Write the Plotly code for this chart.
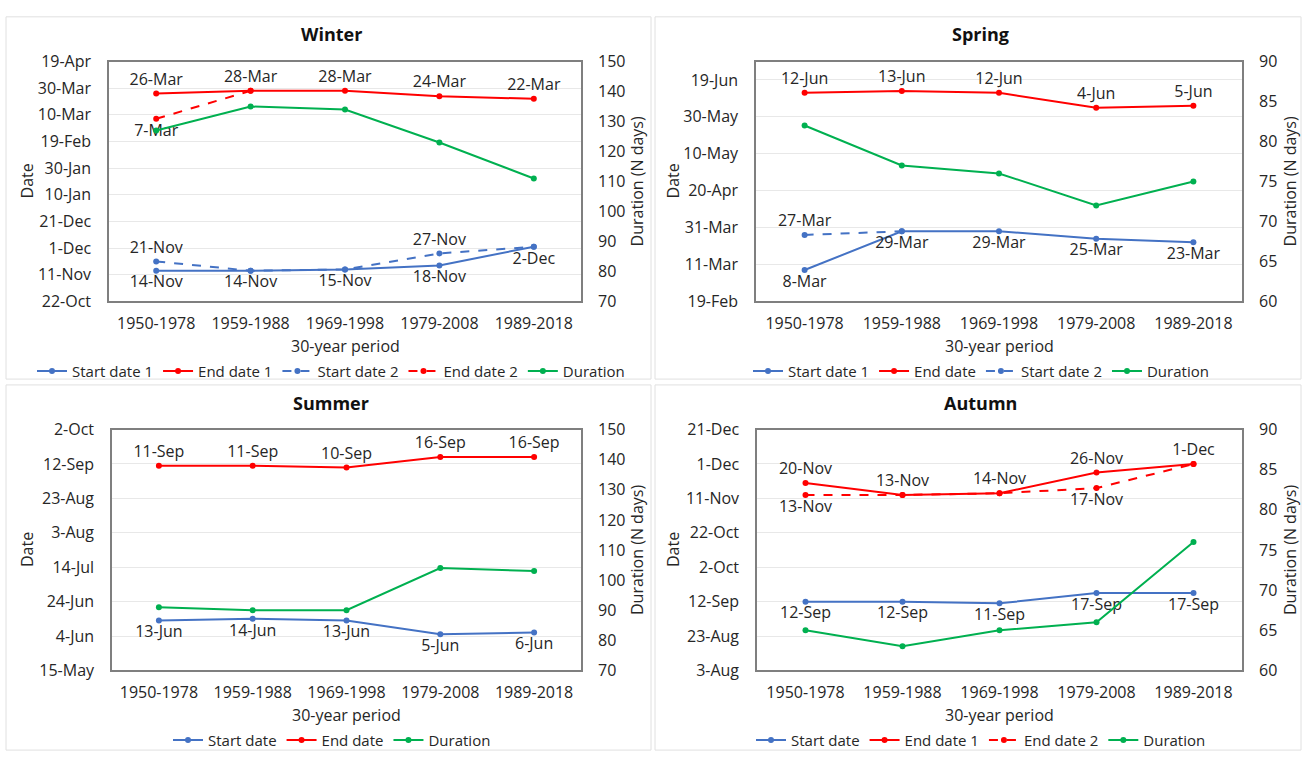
import plotly.graph_objects as go

# ---------------- DATA ----------------
periods = ["1950-1978", "1959-1988", "1969-1998", "1979-2008", "1989-2018"]

# Winter
winter_start1 = ["14-Nov", "14-Nov", "15-Nov", "18-Nov", "2-Dec"]
winter_end1 = ["26-Mar", "28-Mar", "28-Mar", "24-Mar", "22-Mar"]
winter_start2 = ["21-Nov", "14-Nov", "15-Nov", "27-Nov", "2-Dec"]
winter_end2 = ["7-Mar", "28-Mar", None, None, None]
winter_duration = [127, 135, 134, 123, 111]
winter_date_ticks = ["22-Oct", "11-Nov", "1-Dec", "21-Dec", "10-Jan", "30-Jan",
                     "19-Feb", "10-Mar", "30-Mar", "19-Apr"]
winter_dur_ticks = [70, 80, 90, 100, 110, 120, 130, 140, 150]

# Spring
spring_start1 = ["8-Mar", "29-Mar", "29-Mar", "25-Mar", "23-Mar"]
spring_end = ["12-Jun", "13-Jun", "12-Jun", "4-Jun", "5-Jun"]
spring_start2 = ["27-Mar", "29-Mar", None, None, None]
spring_duration = [82, 77, 76, 72, 75]
spring_date_ticks = ["19-Feb", "11-Mar", "31-Mar", "20-Apr", "10-May", "30-May", "19-Jun"]
spring_date_max = "29-Jun"
spring_dur_ticks = [60, 65, 70, 75, 80, 85, 90]

# Summer
summer_start = ["13-Jun", "14-Jun", "13-Jun", "5-Jun", "6-Jun"]
summer_end = ["11-Sep", "11-Sep", "10-Sep", "16-Sep", "16-Sep"]
summer_duration = [91, 90, 90, 104, 103]
summer_date_ticks = ["15-May", "4-Jun", "24-Jun", "14-Jul", "3-Aug", "23-Aug", "12-Sep", "2-Oct"]
summer_dur_ticks = [70, 80, 90, 100, 110, 120, 130, 140, 150]

# Autumn
autumn_start = ["12-Sep", "12-Sep", "11-Sep", "17-Sep", "17-Sep"]
autumn_end1 = ["20-Nov", "13-Nov", "14-Nov", "26-Nov", "1-Dec"]
autumn_end2 = ["13-Nov", "13-Nov", "14-Nov", "17-Nov", "1-Dec"]
autumn_duration = [65, 63, 65, 66, 76]
autumn_date_ticks = ["3-Aug", "23-Aug", "12-Sep", "2-Oct", "22-Oct", "11-Nov", "1-Dec", "21-Dec"]
autumn_dur_ticks = [60, 65, 70, 75, 80, 85, 90]

# ---------------- HELPERS ----------------
MONTHS = {"Jan": 1, "Feb": 2, "Mar": 3, "Apr": 4, "May": 5, "Jun": 6, "Jul": 7,
          "Aug": 8, "Sep": 9, "Oct": 10, "Nov": 11, "Dec": 12}


def to_iso(label, season):
    if label is None:
        return None
    d, m = label.split("-")
    mo = MONTHS[m]
    if season == "winter":
        yr = 1999 if mo >= 8 else 2000   # leap year spans the winter
    else:
        yr = 2001
    return f"{yr}-{mo:02d}-{int(d):02d}"


def conv(lst, season):
    return [to_iso(v, season) for v in lst]


BLUE = "#4472C4"
RED = "#FF0000"
GREEN = "#00B050"
TXT = "#262626"
FONT = "Open Sans"
FS = 16
LFS = 15

fig = go.Figure()


def add_line(name, xs, ys, color, dash, yaxis, xaxis, legend, labels=None, pos=None):
    kw = {}
    if labels is not None:
        kw["text"] = labels
        kw["textposition"] = pos
        kw["textfont"] = dict(family=FONT, size=FS, color=TXT)
        mode = "lines+markers+text"
    else:
        mode = "lines+markers"
    fig.add_trace(go.Scatter(
        x=xs, y=ys, name=name, mode=mode,
        line=dict(color=color, width=2, dash=dash),
        marker=dict(color=color, size=6),
        xaxis=xaxis, yaxis=yaxis, legend=legend, connectgaps=False,
        cliponaxis=False, **kw))


def lbl(lst, keep=None):
    return [("" if v is None or (keep is not None and i not in keep) else v) for i, v in enumerate(lst)]


# Winter (x, y, y2, legend)
add_line("Start date 1", periods, conv(winter_start1, "winter"), BLUE, "solid", "y", "x", "legend",
         winter_start1, "bottom center")
add_line("End date 1", periods, conv(winter_end1, "winter"), RED, "solid", "y", "x", "legend",
         winter_end1, "top center")
add_line("Start date 2", periods, conv(winter_start2, "winter"), BLUE, "dash", "y", "x", "legend",
         lbl(winter_start2, [0, 3]), "top center")
add_line("End date 2", periods, conv(winter_end2, "winter"), RED, "dash", "y", "x", "legend",
         lbl(winter_end2, [0]), "bottom center")
add_line("Duration", periods, winter_duration, GREEN, "solid", "y2", "x", "legend")

# Spring (x2, y3, y4, legend2)
add_line("Start date 1", periods, conv(spring_start1, "spring"), BLUE, "solid", "y3", "x2", "legend2",
         spring_start1, "bottom center")
add_line("End date", periods, conv(spring_end, "spring"), RED, "solid", "y3", "x2", "legend2",
         spring_end, "top center")
add_line("Start date 2", periods, conv(spring_start2, "spring"), BLUE, "dash", "y3", "x2", "legend2",
         lbl(spring_start2, [0]), "top center")
add_line("Duration", periods, spring_duration, GREEN, "solid", "y4", "x2", "legend2")

# Summer (x3, y5, y6, legend3)
add_line("Start date", periods, conv(summer_start, "summer"), BLUE, "solid", "y5", "x3", "legend3",
         summer_start, "bottom center")
add_line("End date", periods, conv(summer_end, "summer"), RED, "solid", "y5", "x3", "legend3",
         summer_end, "top center")
add_line("Duration", periods, summer_duration, GREEN, "solid", "y6", "x3", "legend3")

# Autumn (x4, y7, y8, legend4)
add_line("Start date", periods, conv(autumn_start, "autumn"), BLUE, "solid", "y7", "x4", "legend4",
         autumn_start, "bottom center")
add_line("End date 1", periods, conv(autumn_end1, "autumn"), RED, "solid", "y7", "x4", "legend4",
         autumn_end1, "top center")
add_line("End date 2", periods, conv(autumn_end2, "autumn"), RED, "dash", "y7", "x4", "legend4",
         lbl(autumn_end2, [0, 3]), "bottom center")
add_line("Duration", periods, autumn_duration, GREEN, "solid", "y8", "x4", "legend4")

# ---------------- LAYOUT ----------------
W, H = 1306, 764


def px_x(v):
    return v / W


def px_y(v):
    return 1 - v / H


panels = [
    (1, 1, 2, 109, 581, 52, 299, "winter", winter_date_ticks, winter_dur_ticks, None),
    (2, 3, 4, 756, 1242, 52, 299, "spring", spring_date_ticks, spring_dur_ticks, spring_date_max),
    (3, 5, 6, 112, 581, 431, 679, "summer", summer_date_ticks, summer_dur_ticks, None),
    (4, 7, 8, 757, 1242, 431, 679, "autumn", autumn_date_ticks, autumn_dur_ticks, None),
]

LINE = "#7F7F7F"
tickfont = dict(family=FONT, size=FS, color=TXT)
layout = dict(
    width=W, height=H, margin=dict(l=0, r=0, t=0, b=0),
    paper_bgcolor="white", plot_bgcolor="white",
    font=dict(family=FONT, size=FS, color=TXT),
)

for (xi, yl, yr, x0, x1, yt, yb, season, dticks, durticks, dmax) in panels:
    xs = "" if xi == 1 else str(xi)
    yls = "" if yl == 1 else str(yl)
    layout["xaxis" + xs] = dict(
        domain=[px_x(x0), px_x(x1)], anchor="y" + yls, type="category",
        range=[-0.5, 4.5], showline=True, mirror=True, linecolor=LINE, linewidth=1.5,
        showgrid=False, ticks="", tickfont=tickfont, ticklabelstandoff=7, zeroline=False,
    )
    tv = conv(dticks, season)
    top = to_iso(dmax, season) if dmax else tv[-1]
    layout["yaxis" + yls] = dict(
        domain=[px_y(yb), px_y(yt)], anchor="x" + xs, type="date",
        range=[tv[0], top], tickvals=tv, ticktext=dticks,
        showline=True, mirror=True, linecolor=LINE, linewidth=1.5,
        showgrid=True, gridcolor="#E8E8E8", gridwidth=1, ticks="",
        tickfont=tickfont, ticklabelstandoff=13, zeroline=False,
    )
    layout["yaxis" + str(yr)] = dict(
        overlaying="y" + yls, anchor="x" + xs, side="right",
        range=[durticks[0], durticks[-1]], tickvals=durticks,
        showline=False, showgrid=False, ticks="", zeroline=False,
        tickfont=tickfont, ticklabelstandoff=16,
    )

legend_pos = [("legend", 331, 371), ("legend2", 981, 371), ("legend3", 332, 751), ("legend4", 981, 751)]
for key, lx, ly in legend_pos:
    layout[key] = dict(
        orientation="h", x=px_x(lx), y=px_y(ly), xanchor="center", yanchor="middle",
        font=dict(family=FONT, size=LFS, color=TXT), bgcolor="rgba(0,0,0,0)",
        itemwidth=30, tracegroupgap=0, itemclick=False,
    )

annotations = []
titles = [("Winter", 331, 24), ("Spring", 980, 24), ("Summer", 331, 404), ("Autumn", 980, 404)]
for t, tx, ty in titles:
    annotations.append(dict(text=f"<b>{t}</b>", x=px_x(tx), y=px_y(ty), xref="paper", yref="paper",
                            showarrow=False, font=dict(family=FONT, size=18, color="#111111"),
                            xanchor="center", yanchor="middle"))
for (xi, yl, yr, x0, x1, yt, yb, season, *_r) in panels:
    cy = (yt + yb) / 2
    left_x = 27 if x0 < 600 else 673
    right_x = 637 if x0 < 600 else 1290
    annotations.append(dict(text="Date", x=px_x(left_x), y=px_y(cy), xref="paper", yref="paper",
                            showarrow=False, textangle=-90, font=dict(family=FONT, size=FS, color=TXT),
                            xanchor="center", yanchor="middle"))
    annotations.append(dict(text="Duration (N days)", x=px_x(right_x), y=px_y(cy), xref="paper", yref="paper",
                            showarrow=False, textangle=-90, font=dict(family=FONT, size=FS, color=TXT),
                            xanchor="center", yanchor="middle"))
    annotations.append(dict(text="30-year period", x=px_x((x0 + x1) / 2), y=px_y(yb + 46),
                            xref="paper", yref="paper", showarrow=False,
                            font=dict(family=FONT, size=FS, color=TXT), xanchor="center", yanchor="middle"))
layout["annotations"] = annotations

shapes = []
for (sx0, sy0, sx1, sy1) in [(6, 6, 651, 379), (655, 6, 1301, 379), (6, 385, 651, 761), (655, 385, 1301, 761)]:
    shapes.append(dict(type="rect", xref="paper", yref="paper",
                       x0=px_x(sx0), x1=px_x(sx1), y0=px_y(sy1), y1=px_y(sy0),
                       line=dict(color="#E0E0E0", width=1), fillcolor="rgba(0,0,0,0)", layer="below"))
layout["shapes"] = shapes

fig.update_layout(**layout)
fig.write_html("out.html")
